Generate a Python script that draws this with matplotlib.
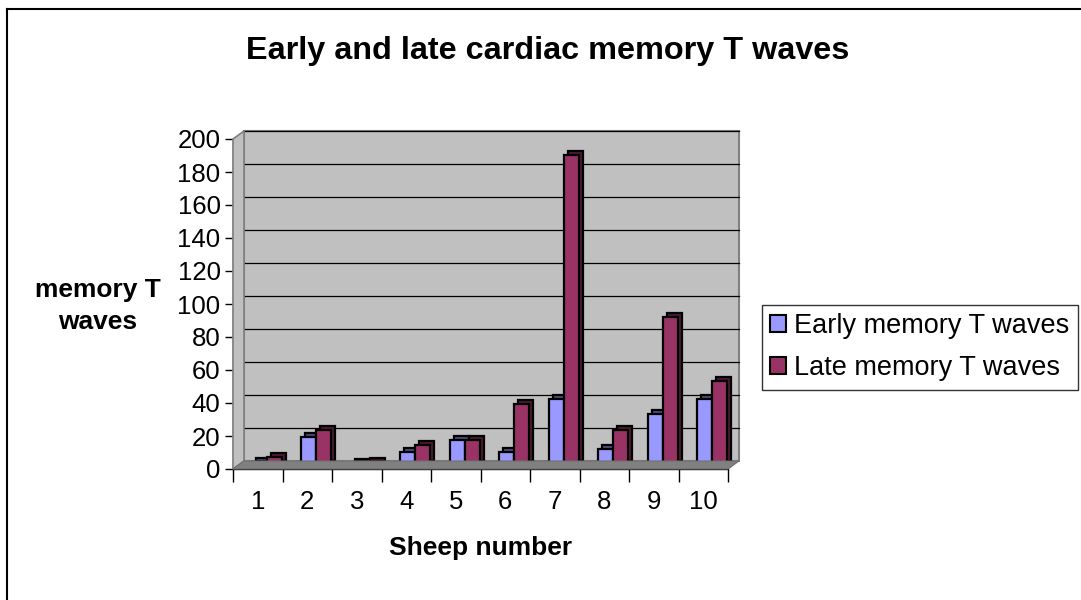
import matplotlib.pyplot as plt
import matplotlib.transforms as mtransforms
from matplotlib.patches import Polygon
from matplotlib.lines import Line2D

plt.rcParams['font.family'] = ['Liberation Sans', 'DejaVu Sans']

# data
sheep = ['1', '2', '3', '4', '5', '6', '7', '8', '9', '10']
early = [2, 17, 1, 8, 15, 8, 40, 10, 31, 40]
late = [5, 21, 2, 12, 15, 37, 188, 21, 90, 51]
series_names = ['Early memory T waves', 'Late memory T waves']
early_color = '#9999FF'
late_color = '#993366'

W, H = 1081, 600
fig = plt.figure(figsize=(W / 100, H / 100), dpi=100)

# front plane of the 3-D plot area, in pixels
x0, x1, yb, yt = 233, 728, 469, 139
ax = fig.add_axes([x0 / W, 1 - yb / H, (x1 - x0) / W, (yb - yt) / H])
ax.set_xlim(0, len(sheep))
ax.set_ylim(0, 200)
ax.patch.set_visible(False)
for s in ax.spines.values():
    s.set_visible(False)

dx, dy = 11, 8  # depth of the wall, px
back_ax = ax.transAxes + mtransforms.ScaledTranslation(dx / 100, dy / 100, fig.dpi_scale_trans)
back = ax.transData + mtransforms.ScaledTranslation(dx / 100, dy / 100, fig.dpi_scale_trans)
mid = ax.transData + mtransforms.ScaledTranslation(dx / 200, dy / 200, fig.dpi_scale_trans)

# back wall and its gridlines
ax.add_patch(plt.Rectangle((0, 0), 1, 1, transform=back_ax, facecolor='#C0C0C0',
                           edgecolor='#808080', lw=1.5, zorder=0, clip_on=False))
for v in range(20, 201, 20):
    ax.plot([0, len(sheep)], [v, v], transform=back, color='black', lw=0.9,
            zorder=1, clip_on=False)

# floor and left wall
disp = ax.transAxes.transform
fl = [disp((0, 0)), disp((1, 0)), disp((1, 0)) + (dx, dy), disp((0, 0)) + (dx, dy)]
fig.patches.append(Polygon(fl, closed=True, transform=None, facecolor='#808080',
                           edgecolor='#707070', lw=0.8, zorder=1, figure=fig))
lw_ = [disp((0, 0)), disp((0, 1)), disp((0, 1)) + (dx, dy), disp((0, 0)) + (dx, dy)]
fig.patches.append(Polygon(lw_, closed=True, transform=None, facecolor='#C0C0C0',
                           edgecolor='#808080', lw=1.2, zorder=0.5, figure=fig))

# bars (depth faces then front faces)
xs = [i + 0.5 for i in range(len(sheep))]
bw = 0.3
shift = 0.07
sd = mid + mtransforms.ScaledTranslation(4 / 100, 4 / 100, fig.dpi_scale_trans)
for vals, off, col, dark in [(early, -bw / 2, early_color, '#4d4d80'),
                             (late, bw / 2, late_color, '#4d1a33')]:
    pos = [x + off + shift for x in xs]
    ax.bar(pos, vals, width=bw, color=dark, edgecolor='black', lw=1.6,
           transform=sd, zorder=3, clip_on=False)
    ax.bar(pos, vals, width=bw, color=col, edgecolor='black', lw=1.6,
           transform=mid, zorder=4, clip_on=False)

# axes lines and ticks
ax.plot([0, 0], [0, 200], color='black', lw=1, clip_on=False, zorder=5)
ax.plot([0, len(sheep)], [0, 0], color='black', lw=1, clip_on=False, zorder=5)
ax.set_yticks(range(0, 201, 20))
ax.tick_params(axis='y', labelsize=18.5, length=6, width=1, pad=3)
ax.set_xticks(range(0, len(sheep) + 1), minor=False)
ax.set_xticklabels([])
ax.set_xticks(xs, minor=True)
ax.set_xticklabels(sheep, minor=True)
ax.tick_params(axis='x', which='major', length=9, width=1, direction='out')
ax.tick_params(axis='x', which='minor', length=0, labelsize=18.5, pad=15)

ax.set_xlabel('Sheep number', fontsize=19, fontweight='bold', labelpad=16)
fig.text(98 / W, 1 - 306 / H, 'memory T\nwaves', fontsize=19, fontweight='bold',
         ha='center', va='center', linespacing=1.45)
fig.text(548 / W, 1 - 51 / H, 'Early and late cardiac memory T waves', fontsize=23.3,
         fontweight='bold', ha='center', va='center')

handles = [plt.Rectangle((0, 0), 1, 1, facecolor=c, edgecolor='black', lw=1.5)
           for c in (early_color, late_color)]
leg = fig.legend(handles, series_names, loc='upper left',
                 bbox_to_anchor=(762 / W, 1 - 305 / H), fontsize=19.5,
                 frameon=True, fancybox=False, handlelength=0.6, handleheight=0.6,
                 handletextpad=0.3, borderpad=0.3, labelspacing=0.6, borderaxespad=0)
leg.get_frame().set_edgecolor('black')
leg.get_frame().set_linewidth(1)

# chart-area border
fig.add_artist(Line2D([7 / W, 7 / W], [0, 1 - 9 / H], color='black', lw=1.5,
                      transform=fig.transFigure))
fig.add_artist(Line2D([7 / W, 1], [1 - 9 / H, 1 - 9 / H], color='black', lw=1.5,
                      transform=fig.transFigure))

fig.savefig('out.png', dpi=100)
